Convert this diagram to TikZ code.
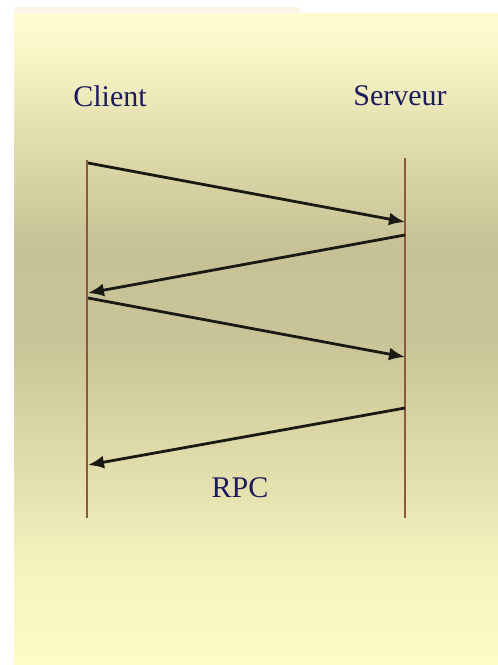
\documentclass[tikz,border=0pt]{standalone}
\usepackage{fontspec}
\setmainfont{Liberation Serif}
\usetikzlibrary{arrows.meta}

\definecolor{texte}{HTML}{1C1C5C}
\definecolor{ligne}{HTML}{8A5A3A}
\definecolor{fleche}{HTML}{1A1A14}
\definecolor{fond0}{HTML}{FDFBC6}
\definecolor{fond1}{HTML}{F6F2BE}
\definecolor{fond2}{HTML}{E4E0AE}
\definecolor{fond3}{HTML}{C8C497}
\definecolor{fond4}{HTML}{C6C295}
\definecolor{fond5}{HTML}{E0DCAC}
\definecolor{fond6}{HTML}{F9F6C8}
\definecolor{fond7}{HTML}{FFFCD2}

% fond jaune -> kaki -> jaune
\pgfdeclareverticalshading{fondrpc}{100bp}{%
  color(0bp)=(fond0);
  color(25bp)=(fond0); color(33bp)=(fond1); color(39bp)=(fond2);
  color(50bp)=(fond3); color(57bp)=(fond4); color(65bp)=(fond5);
  color(72bp)=(fond6); color(75bp)=(fond7); color(100bp)=(fond7)}

\tikzset{
  acteur/.style={text=texte, font=\fontsize{30}{34}\selectfont, inner sep=0pt},
  vie/.style={draw=ligne, line width=2.2pt},
  msg/.style={draw=fleche, line width=2.8pt, -{Latex[length=16pt,width=13pt]}},
}

\begin{document}
\begin{tikzpicture}[x=1pt, y=-1pt]

    % fond
    \fill[white] (0,0) rectangle (498,665);
    \useasboundingbox (0,0) rectangle (498,665);
    \fill[fond6!80!brown!30!white] (14,7) rectangle (300,13);
    \shade[shading=fondrpc] (14,13) rectangle (498,665);

    % les deux acteurs
    \node[acteur] (client) at (110,96) {Client};
    \node[acteur] (serveur) at (400,96) {Serveur};

    % lignes de vie
    \coordinate (c0) at (87,160);
    \coordinate (c9) at (87,518);
    \coordinate (s0) at (405,158);
    \coordinate (s9) at (405,518);
    \draw[vie] (c0) -- (c9);
    \draw[vie] (s0) -- (s9);

    % points des messages
    \coordinate (c1) at (88,163);
    \coordinate (s1) at (405,222);
    \coordinate (s2) at (405,235);
    \coordinate (c2) at (88,293);
    \coordinate (c3) at (88,298);
    \coordinate (s3) at (405,357);
    \coordinate (s4) at (405,408);
    \coordinate (c4) at (88,465);

    % aller-retour
    \draw[msg] (c1) -- (s1);
    \draw[msg] (s2) -- (c2);
    \draw[msg] (c3) -- (s3);
    \draw[msg] (s4) -- (c4);

    \node[acteur] (rpc) at (240,488) {RPC};
    %
\end{tikzpicture}
\end{document}
